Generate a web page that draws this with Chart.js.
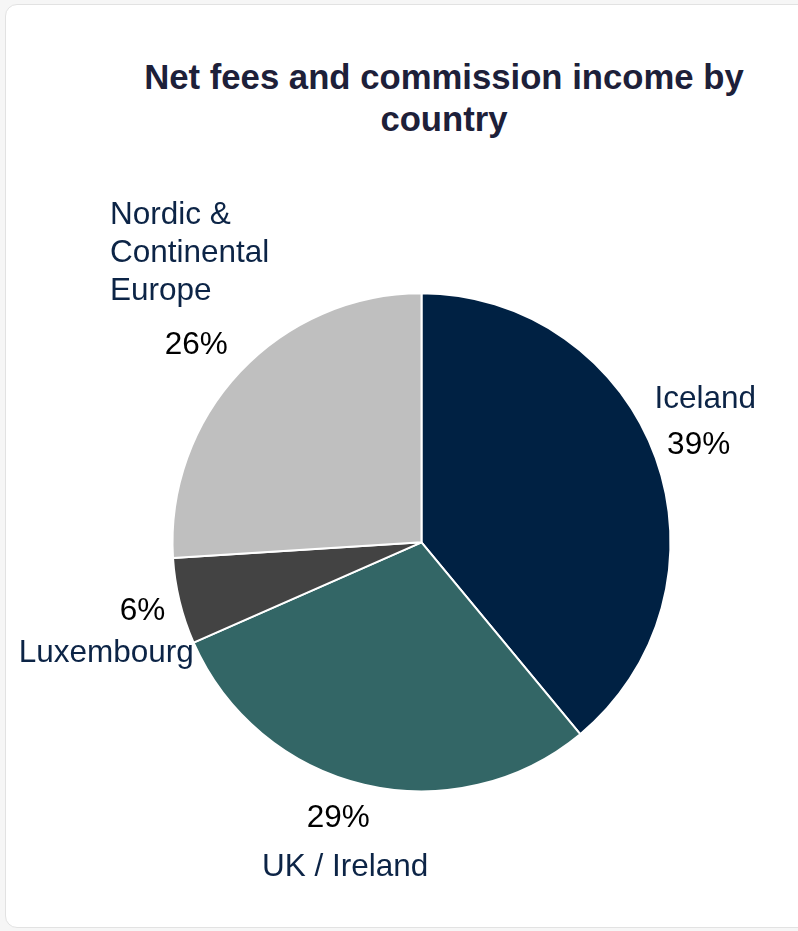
<!DOCTYPE html>
<html>
<head>
<meta charset="utf-8">
<script src="https://cdn.jsdelivr.net/npm/chart.js@4.4.1/dist/chart.umd.min.js"></script>
<style>
  html, body { margin:0; padding:0; width:798px; height:931px; overflow:hidden; background:#f6f6f6; }
  #card { position:absolute; left:5px; top:4px; width:900px; height:924px; background:#fff;
          border:1px solid #e2e2e2; border-radius:12px; box-sizing:border-box; }
  #title { position:absolute; left:114px; top:57px; width:660px; text-align:center;
           font-family:"Liberation Sans", Arial, sans-serif; font-weight:bold; font-size:34.7px;
           line-height:41.7px; color:#1d2039; }
  #wrap { position:absolute; left:0; top:0; width:798px; height:931px; }
</style>
</head>
<body>
<div id="card"></div>
<div id="title">Net fees and commission income by country</div>
<div id="wrap"><canvas id="c" width="798" height="931"></canvas></div>
<script>
// ---- data ----
const categories = ['Iceland', 'UK / Ireland', 'Luxembourg', 'Nordic & Continental Europe'];
const nameLines = [['Iceland'], ['UK / Ireland'], ['Luxembourg'], ['Nordic &', 'Continental', 'Europe']];
const shares = [39, 29.4, 5.6, 26];

// ---- label layout (relative to slice mid-angle and radius) ----
const DEG = Math.PI / 180;
const nameLayout = [
  { shift: -7.3, factor: 1.285 },
  { shift: 0.0,  factor: 1.337 },
  { shift: -5.3, factor: 1.344 },
  { shift: 8.3,  factor: 1.502 }
];
const pctLayout = [
  { shift: 0.1,  factor: 1.187 },
  { shift: 3.6,  factor: 1.154 },
  { shift: 0.2,  factor: 1.157 },
  { shift: -1.6, factor: 1.214 }
];

const FONT_SIZE = 31.5;
const FONT = FONT_SIZE + 'px "Liberation Sans", Arial, sans-serif';
const CAP = 0.716 * FONT_SIZE;
const LINE_H = 37.6;

const labelPlugin = {
  id: 'outsideLabels',
  afterDatasetsDraw(chart) {
    const ctx = chart.ctx;
    const meta = chart.getDatasetMeta(0);
    const total = shares.reduce((a, b) => a + b, 0);
    ctx.save();
    ctx.font = FONT;
    ctx.textBaseline = 'alphabetic';
    meta.data.forEach((arc, i) => {
      const p = arc.getProps(['x', 'y', 'startAngle', 'endAngle', 'outerRadius'], true);
      const r = p.outerRadius - 1;
      const mid = (p.startAngle + p.endAngle) / 2;
      // percentage
      const pa = mid + pctLayout[i].shift * DEG;
      const px = p.x + Math.cos(pa) * r * pctLayout[i].factor;
      const py = p.y + Math.sin(pa) * r * pctLayout[i].factor;
      ctx.fillStyle = '#000000';
      ctx.textAlign = 'center';
      ctx.fillText(Math.round(shares[i] / total * 100) + '%', px, py + CAP / 2);
      // category name (block of lines, left aligned within block)
      const na = mid + nameLayout[i].shift * DEG;
      const nx = p.x + Math.cos(na) * r * nameLayout[i].factor;
      const ny = p.y + Math.sin(na) * r * nameLayout[i].factor;
      const lines = nameLines[i];
      const maxW = Math.max(...lines.map(t => ctx.measureText(t).width));
      const left = nx - maxW / 2;
      const firstY = ny - (lines.length - 1) * LINE_H / 2;
      ctx.fillStyle = '#0c2446';
      ctx.textAlign = lines.length > 1 ? 'left' : 'center';
      lines.forEach((t, k) => {
        ctx.fillText(t, lines.length > 1 ? left : nx, firstY + k * LINE_H + CAP / 2);
      });
    });
    ctx.restore();
  }
};

// pie geometry: visible centre (421.5, 542.3), visible radius 248
const W = 798, H = 931, BW = 2;
const cx = 421.5, cy = 542.3, rVis = 248;
const side = 2 * (rVis + 1) + BW;
const padTop = cy - side / 2, padBottom = H - (cy + side / 2);
const padLeft = 100, padRight = W - (2 * cx - padLeft);

new Chart(document.getElementById('c'), {
  type: 'pie',
  data: {
    labels: categories,
    datasets: [{
      data: shares,
      backgroundColor: ['#002143', '#336666', '#434343', '#bfbfbf'],
      borderColor: '#ffffff',
      borderWidth: BW
    }]
  },
  options: {
    responsive: false,
    animation: false,
    layout: { padding: { top: padTop, bottom: padBottom, left: padLeft, right: padRight } },
    plugins: {
      legend: { display: false },
      tooltip: { enabled: false },
      title: { display: false }
    }
  },
  plugins: [labelPlugin]
});
</script>
</body>
</html>
